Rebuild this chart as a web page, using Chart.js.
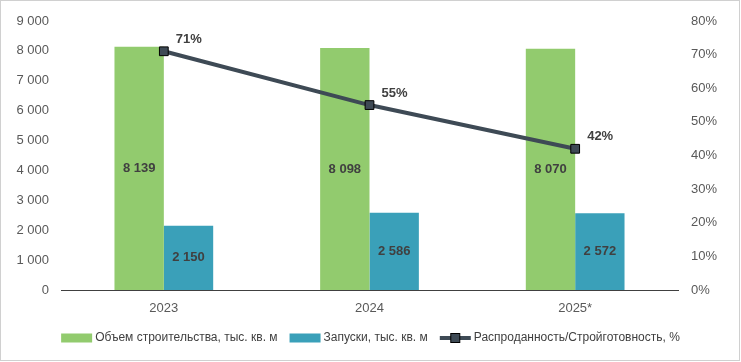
<!DOCTYPE html>
<html>
<head>
<meta charset="utf-8">
<script src="https://cdn.jsdelivr.net/npm/chart.js@4"></script>
<style>
  html, body { margin: 0; padding: 0; background: #fff; }
  #wrap { width: 741px; height: 362px; position: relative; }
</style>
</head>
<body>
<div id="wrap"><canvas id="chart"></canvas></div>
<script>
// Data
const years = ["2023", "2024", "2025*"];
const volume = [8139, 8098, 8070];      // Объем строительства, тыс. кв. м
const launches = [2150, 2586, 2572];    // Запуски, тыс. кв. м
const soldShare = [71, 55, 42];         // Распроданность/Стройготовность, %

const GREEN = "#92CB6E";
const BLUE = "#3AA0B9";
const LINE = "#3E4A55";
const TEXT = "#595959";
const FONT = "'Liberation Sans', Arial, sans-serif";

// format 8139 -> "8 139"
function fmt(v) {
    return String(v).replace(/\B(?=(\d{3})+(?!\d))/g, " ");
}

// Border around the whole picture
const frame = {
    id: "frame",
    beforeDraw(chart) {
        const ctx = chart.ctx;
        ctx.save();
        ctx.fillStyle = "#fff";
        ctx.fillRect(0, 0, chart.width, chart.height);
        ctx.strokeStyle = "#D0D0D0";
        ctx.lineWidth = 1;
        ctx.strokeRect(0.5, 0.5, 739, 360);
        ctx.restore();
    }
};

// Value labels on bars and on the line
const valueLabels = {
    id: "valueLabels",
    afterDatasetsDraw(chart) {
        const ctx = chart.ctx;
        ctx.save();
        ctx.font = "bold 13px " + FONT;
        ctx.fillStyle = "#404040";
        ctx.textAlign = "center";
        ctx.textBaseline = "middle";
        chart.data.datasets.forEach((ds, i) => {
            const meta = chart.getDatasetMeta(i);
            meta.data.forEach((el, j) => {
                if (ds.type === "line") {
                    ctx.fillText(ds.data[j] + "%", el.x + 25, el.y - 12);
                } else {
                    ctx.fillText(fmt(ds.data[j]), el.x, (el.y + el.base) / 2);
                }
            });
        });
        ctx.restore();
    }
};

// Legend drawn by hand so the line item gets its square marker
const bottomLegend = {
    id: "bottomLegend",
    afterDraw(chart) {
        const ctx = chart.ctx;
        ctx.save();
        ctx.font = "12px " + FONT;
        ctx.textBaseline = "middle";
        const items = chart.data.datasets.map(ds => ({
            text: ds.label,
            type: ds.type || "bar",
            color: ds.type === "line" ? ds.borderColor : ds.backgroundColor
        }));
        const boxW = 31, gapBox = 3, gapItem = 12;
        let total = 0;
        items.forEach(it => { it.w = boxW + gapBox + ctx.measureText(it.text).width; total += it.w; });
        total += gapItem * (items.length - 1);
        let x = (chart.width - total) / 2;
        const y = 338;
        items.forEach(it => {
            if (it.type === "line") {
                ctx.strokeStyle = it.color;
                ctx.lineWidth = 4;
                ctx.beginPath();
                ctx.moveTo(x, y);
                ctx.lineTo(x + boxW, y);
                ctx.stroke();
                ctx.fillStyle = it.color;
                ctx.fillRect(x + boxW / 2 - 4.5, y - 4.5, 9, 9);
                ctx.strokeStyle = "#000";
                ctx.lineWidth = 1;
                ctx.strokeRect(x + boxW / 2 - 4.5, y - 4.5, 9, 9);
            } else {
                ctx.fillStyle = it.color;
                ctx.fillRect(x, y - 4.5, boxW, 9);
            }
            ctx.fillStyle = "#404040";
            ctx.fillText(it.text, x + boxW + gapBox, y);
            x += it.w + gapItem;
        });
        ctx.restore();
    }
};

new Chart(document.getElementById("chart"), {
    data: {
        labels: years,
        datasets: [
            {
                type: "bar",
                label: "Объем строительства, тыс. кв. м",
                data: volume,
                yAxisID: "y",
                backgroundColor: GREEN,
                categoryPercentage: 0.48,
                barPercentage: 1,
                order: 1
            },
            {
                type: "bar",
                label: "Запуски, тыс. кв. м",
                data: launches,
                yAxisID: "y",
                backgroundColor: BLUE,
                categoryPercentage: 0.48,
                barPercentage: 1,
                order: 1
            },
            {
                type: "line",
                label: "Распроданность/Стройготовность, %",
                data: soldShare,
                yAxisID: "y1",
                borderColor: LINE,
                backgroundColor: LINE,
                borderWidth: 4,
                pointStyle: "rect",
                pointRadius: 6.2,
                pointBackgroundColor: LINE,
                pointBorderColor: "#000",
                pointBorderWidth: 1,
                tension: 0,
                order: 0
            }
        ]
    },
    options: {
        responsive: true,
        maintainAspectRatio: false,
        animation: false,
        layout: { padding: { top: 21, left: 0, right: 0, bottom: 40 } },
        plugins: {
            legend: { display: false },
            tooltip: { enabled: false }
        },
        scales: {
            x: {
                grid: { display: false, drawTicks: false },
                border: { display: true, color: "#404040", width: 1 },
                ticks: { color: TEXT, font: { family: FONT, size: 13 }, padding: 11 },
                afterFit(scale) { scale.height = 32; }
            },
            y: {
                position: "left",
                min: 0, max: 9000,
                grid: { display: false, drawTicks: false },
                border: { display: false },
                ticks: {
                    stepSize: 1000,
                    color: TEXT,
                    padding: 12,
                    font: { family: FONT, size: 13 },
                    callback: v => fmt(v)
                },
                afterFit(scale) { scale.width = 61; }
            },
            y1: {
                position: "right",
                min: 0, max: 80,
                grid: { display: false, drawTicks: false },
                border: { display: false },
                ticks: {
                    stepSize: 10,
                    color: TEXT,
                    padding: 13,
                    font: { family: FONT, size: 13 },
                    callback: v => v + "%"
                },
                afterFit(scale) { scale.width = 63; }
            }
        }
    },
    plugins: [frame, valueLabels, bottomLegend]
});
</script>
</body>
</html>
